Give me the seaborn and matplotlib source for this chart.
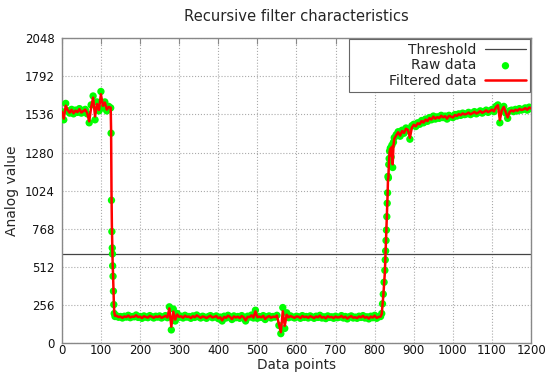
import numpy as np
import pandas as pd
import matplotlib
matplotlib.use("Agg")
import matplotlib.pyplot as plt
import seaborn as sns

# ---------------- data ----------------
title = "Recursive filter characteristics"
x_label = "Data points"
y_label = "Analog value"
legend_labels = ["Threshold", "Raw data", "Filtered data"]
threshold = 600
x_ticks = [0, 100, 200, 300, 400, 500, 600, 700, 800, 900, 1000, 1100, 1200]
y_ticks = [0, 256, 512, 768, 1024, 1280, 1536, 1792, 2048]

# segment 1: high level, x = 0..120 step 5
seg1_x = list(range(0, 121, 5))
seg1_y = [1555, 1500, 1610, 1560, 1545, 1570, 1540, 1565, 1550, 1575,
          1545, 1560, 1570, 1540, 1480, 1600, 1660, 1500, 1620, 1560,
          1690, 1580, 1620, 1560, 1590]

# segment 2: falling edge
seg2_x = [125, 126, 127, 128, 129, 129.5, 130, 131, 132, 133, 134, 136]
seg2_y = [1580, 1410, 960, 750, 640, 600, 520, 450, 350, 260, 200, 180]

# segment 3: low level, x = 140..810 step 5
seg3_x = list(range(140, 811, 5))
seg3_y = [185, 175, 180, 170, 182, 176, 188, 172, 180, 178,
          190, 174, 180, 168, 184, 176, 172, 186, 178, 170,
          182, 176, 184, 170, 178, 186, 172, 245, 90, 230,
          150, 200, 175, 182, 170, 188, 176, 180, 168, 184,
          174, 190, 178, 170, 182, 176, 168, 180, 186, 172,
          178, 184, 166, 176, 150, 182, 170, 188, 176, 160,
          184, 172, 180, 168, 186, 174, 150, 182, 176, 190,
          170, 222, 168, 180, 174, 186, 160, 178, 184, 170,
          180, 176, 188, 120, 65, 240, 100, 205, 172, 184,
          176, 170, 182, 178, 168, 186, 174, 180, 170, 184,
          176, 168, 182, 174, 188, 170, 178, 166, 184, 174,
          178, 168, 182, 172, 176, 186, 170, 180, 164, 178,
          184, 170, 176, 168, 182, 174, 186, 170, 178, 164,
          182, 172, 188, 168, 178]

# segment 4: rising edge
seg4_x = [815, 818, 820, 822, 824, 826, 827, 828, 829, 830, 831, 832,
          833, 834, 835, 836, 837, 838, 840, 842, 844, 846, 848, 850]
seg4_y = [180, 200, 265, 330, 410, 490, 560, 620, 690, 760, 850, 940,
          1010, 1120, 1110, 1200, 1240, 1290, 1310, 1250, 1330, 1180, 1350, 1380]

# segment 5: settling high level, x = 855..1200 step 5
seg5_x = list(range(855, 1201, 5))
seg5_y = [1400, 1420, 1390, 1430, 1410, 1445, 1430, 1370, 1460, 1470,
          1455, 1480, 1470, 1495, 1480, 1505, 1490, 1515, 1500, 1525,
          1505, 1520, 1510, 1530, 1515, 1525, 1505, 1530, 1520, 1515,
          1535, 1525, 1540, 1530, 1545, 1535, 1540, 1550, 1535, 1545,
          1555, 1540, 1550, 1560, 1545, 1555, 1565, 1550, 1560, 1570,
          1555, 1590, 1600, 1480, 1575, 1590, 1545, 1510, 1560, 1565,
          1555, 1570, 1560, 1575, 1565, 1570, 1580, 1565, 1585, 1575]

raw_x = np.array(seg1_x + seg2_x + seg3_x + seg4_x + seg5_x, dtype=float)
raw_y = np.array(seg1_y + seg2_y + seg3_y + seg4_y + seg5_y, dtype=float)

# recursive (first-order IIR) filter applied to the raw data
gain = 0.85
filt_y = np.empty_like(raw_y)
filt_y[0] = raw_y[0]
for i in range(1, len(raw_y)):
    filt_y[i] = filt_y[i - 1] + gain * (raw_y[i] - filt_y[i - 1])

df = pd.DataFrame({"x": raw_x, "raw": raw_y, "filtered": filt_y})

# ---------------- style ----------------
sns.set_style("white")
plt.rcParams["font.family"] = ["DejaVu Sans"]
plt.rcParams["axes.edgecolor"] = "#888888"
plt.rcParams["axes.linewidth"] = 1.0

fig = plt.figure(figsize=(5.47, 3.74), dpi=100)
ax = fig.add_axes([0.113, 0.082, 0.858, 0.816])

ax.axhline(threshold, color="#444444", lw=0.9, label=legend_labels[0], zorder=2)
sns.scatterplot(data=df, x="x", y="raw", ax=ax, color="#00ff00", s=28,
                edgecolor="none", linewidth=0, label=legend_labels[1], zorder=3)
sns.lineplot(data=df, x="x", y="filtered", ax=ax, color="#ff0000", lw=1.8,
             sort=False, estimator=None, label=legend_labels[2], zorder=4)

ax.set_xlim(0, 1200)
ax.set_ylim(0, 2048)
ax.set_xticks(x_ticks)
ax.set_yticks(y_ticks)
ax.tick_params(axis="x", direction="in", length=4, width=0.8,
               color="#888888", labelsize=8.5, pad=0.5, top=True,
               labelcolor="#111111")
ax.tick_params(axis="y", direction="out", length=3, width=0.8,
               color="#888888", labelsize=8.5, pad=2, right=False,
               labelcolor="#111111")
ax.grid(True, color="#aaaaaa", linestyle=":", linewidth=0.8)
ax.set_axisbelow(True)

ax.set_title(title, fontsize=10.6, pad=12)
ax.set_xlabel(x_label, fontsize=9.8, labelpad=0.5)
ax.set_ylabel(y_label, fontsize=10, labelpad=4)

handles, labels = ax.get_legend_handles_labels()
labels = [lab if lab != legend_labels[2] else "        " + lab for lab in labels]
leg = ax.legend(handles, labels, loc="upper right", markerfirst=False,
                fontsize=10, frameon=True, fancybox=False, framealpha=1.0,
                edgecolor="#666666", borderaxespad=0.05, numpoints=1,
                handlelength=3.0, handletextpad=0.6, labelspacing=0.1,
                borderpad=0.3)
leg.get_frame().set_linewidth(0.8)
for t in leg.get_texts():
    t.set_ha("right")

fig.savefig("out.png", dpi=100)
